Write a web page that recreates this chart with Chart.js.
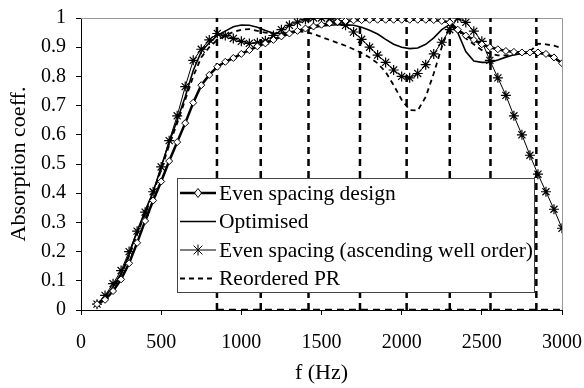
<!DOCTYPE html>
<html>
<head>
<meta charset="utf-8">
<script src="https://cdn.jsdelivr.net/npm/chart.js@4.4.1/dist/chart.umd.min.js"></script>
<style>
html, body { margin: 0; padding: 0; background: #fff; }
#wrap { width: 584px; height: 388px; }
</style>
</head>
<body>
<div id="wrap"><canvas id="chart" width="584" height="388"></canvas></div>
<script>
// frequency (Hz) of each sample
const freqHz = [
  100, 150, 200, 250, 300, 350, 400, 450, 500, 550,
  600, 650, 700, 750, 800, 850, 900, 950, 1000, 1050,
  1100, 1150, 1200, 1250, 1300, 1350, 1400, 1450, 1500, 1550,
  1600, 1650, 1700, 1750, 1800, 1850, 1900, 1950, 2000, 2050,
  2100, 2150, 2200, 2250, 2300, 2350, 2400, 2450, 2500, 2550,
  2600, 2650, 2700, 2750, 2800, 2850, 2900, 2950, 3000
];
const evenSpacing = [
  0.02, 0.035, 0.065, 0.105, 0.16, 0.23, 0.305, 0.375, 0.44, 0.51,
  0.575, 0.64, 0.71, 0.77, 0.805, 0.833, 0.85, 0.863, 0.877, 0.89,
  0.903, 0.913, 0.925, 0.937, 0.947, 0.956, 0.964, 0.971, 0.977, 0.982,
  0.987, 0.99, 0.992, 0.993, 0.994, 0.994, 0.994, 0.994, 0.994, 0.994,
  0.994, 0.994, 0.993, 0.99, 0.985, 0.96, 0.94, 0.925, 0.91, 0.9,
  0.893, 0.887, 0.884, 0.882, 0.882, 0.882, 0.877, 0.865, 0.845
];
const optimised = [
  0.02, 0.045, 0.08, 0.125, 0.19, 0.27, 0.34, 0.405, 0.49, 0.575,
  0.65, 0.73, 0.82, 0.885, 0.915, 0.94, 0.955, 0.97, 0.976, 0.975,
  0.968, 0.957, 0.948, 0.946, 0.95, 0.955, 0.962, 0.968, 0.972, 0.975,
  0.977, 0.977, 0.975, 0.968, 0.958, 0.945, 0.927, 0.91, 0.9, 0.895,
  0.897, 0.91, 0.932, 0.96, 0.978, 0.95, 0.885, 0.853, 0.848, 0.848,
  0.856, 0.866, 0.874, 0.878, 0.88, 0.88, 0.875, 0.864, 0.845
];
const evenAscending = [
  0.02, 0.05, 0.09, 0.135, 0.2, 0.27, 0.335, 0.405, 0.49, 0.58,
  0.665, 0.765, 0.855, 0.893, 0.925, 0.947, 0.94, 0.93, 0.92, 0.913,
  0.915, 0.922, 0.94, 0.96, 0.975, 0.986, 0.995, 1.0, 1.0, 0.998,
  0.99, 0.975, 0.952, 0.927, 0.9, 0.873, 0.848, 0.822, 0.8, 0.795,
  0.81, 0.84, 0.877, 0.917, 0.96, 1.0, 0.985, 0.955, 0.92, 0.855,
  0.795, 0.735, 0.665, 0.6, 0.53, 0.465, 0.405, 0.345, 0.28
];
const reorderedPR = [
  0.02, 0.04, 0.075, 0.12, 0.185, 0.26, 0.33, 0.4, 0.48, 0.565,
  0.64, 0.72, 0.8, 0.865, 0.9, 0.925, 0.94, 0.952, 0.96, 0.962,
  0.956, 0.95, 0.946, 0.948, 0.952, 0.955, 0.952, 0.945, 0.935, 0.925,
  0.915, 0.905, 0.893, 0.88, 0.865, 0.845, 0.815, 0.77, 0.72, 0.685,
  0.683, 0.73, 0.81, 0.9, 0.975, 0.96, 0.93, 0.91, 0.89, 0.878,
  0.872, 0.872, 0.875, 0.878, 0.885, 0.912, 0.91, 0.905, 0.897
];
// dashed vertical lines
const wellEdgesHz = [848, 1121, 1419, 1740, 2031, 2300, 2554, 2840];

const xTicks = [0, 500, 1000, 1500, 2000, 2500, 3000];
const yTicks = [0, 0.1, 0.2, 0.3, 0.4, 0.5, 0.6, 0.7, 0.8, 0.9, 1];

const serif = "'Liberation Serif', 'Times New Roman', serif";

function pts(ys) {
  return freqHz.map(function(f, i) { return { x: f, y: ys[i] }; });
}

const edgeData = [];
wellEdgesHz.forEach(function(e) {
  edgeData.push({ x: e, y: yTicks[0] }, { x: e, y: yTicks[yTicks.length - 1] }, { x: e, y: null });
});
edgeData.push({ x: wellEdgesHz[0], y: yTicks[0] }, { x: xTicks[xTicks.length - 1], y: yTicks[0] });

function drawMarker(ctx, style, x, y, r) {
  ctx.beginPath();
  if (style === 'rectRot') {
    ctx.moveTo(x, y - r - 0.5);
    ctx.lineTo(x + r - 0.5, y);
    ctx.lineTo(x, y + r + 0.5);
    ctx.lineTo(x - r + 0.5, y);
    ctx.closePath();
    ctx.fillStyle = '#fff';
    ctx.fill();
    ctx.stroke();
  } else if (style === 'star') {
    ctx.moveTo(x, y - r); ctx.lineTo(x, y + r);
    ctx.moveTo(x - r * 0.8, y - r * 0.8); ctx.lineTo(x + r * 0.8, y + r * 0.8);
    ctx.moveTo(x + r * 0.8, y - r * 0.8); ctx.lineTo(x - r * 0.8, y + r * 0.8);
    ctx.stroke();
  }
}

const framePlugin = {
  id: 'frame',
  beforeDatasetsDraw(chart) {
    const a = chart.chartArea, ctx = chart.ctx;
    ctx.save();
    ctx.strokeStyle = '#999';
    ctx.lineWidth = 1;
    ctx.beginPath();
    ctx.moveTo(a.left, a.top + 0.5);
    ctx.lineTo(a.right + 0.5, a.top + 0.5);
    ctx.lineTo(a.right + 0.5, a.bottom);
    ctx.stroke();
    ctx.restore();
  }
};

const legendPlugin = {
  id: 'boxLegend',
  afterDraw(chart) {
    const ctx = chart.ctx;
    const x0 = 177, y0 = 178, w = 357, h = 114;
    ctx.save();
    ctx.fillStyle = '#fff';
    ctx.fillRect(x0, y0, w, h);
    ctx.strokeStyle = '#444';
    ctx.lineWidth = 1;
    ctx.strokeRect(x0 + 0.5, y0 + 0.5, w, h);
    let row = 0;
    chart.data.datasets.forEach(function(ds) {
      if (!ds.label) return;
      const y = y0 + 15 + row * 28.5;
      ctx.strokeStyle = '#000';
      ctx.lineWidth = ds.borderWidth;
      ctx.setLineDash(ds.borderDash || []);
      ctx.beginPath();
      ctx.moveTo(x0 + 3, y);
      ctx.lineTo(x0 + 39, y);
      ctx.stroke();
      ctx.setLineDash([]);
      ctx.lineWidth = 1;
      if (ds.pointRadius > 0) drawMarker(ctx, ds.pointStyle, x0 + 21, y, ds.pointRadius + 0.5);
      ctx.fillStyle = '#000';
      ctx.font = '21.5px ' + serif;
      ctx.textBaseline = 'middle';
      ctx.fillText(ds.label, x0 + 42, y + 1);
      row++;
    });
    ctx.restore();
  }
};

const ctx = document.getElementById('chart').getContext('2d');
new Chart(ctx, {
  type: 'line',
  data: {
    datasets: [
      {
        label: 'Even spacing design',
        data: pts(evenSpacing),
        borderColor: '#000',
        borderWidth: 2.5,
        pointStyle: 'rectRot',
        pointRadius: 3.5,
        pointBackgroundColor: '#fff',
        pointBorderColor: '#000',
        pointBorderWidth: 1
      },
      {
        label: 'Optimised',
        data: pts(optimised),
        borderColor: '#000',
        borderWidth: 1.6,
        pointRadius: 0
      },
      {
        label: 'Even spacing (ascending well order)',
        data: pts(evenAscending),
        borderColor: '#000',
        borderWidth: 1,
        pointStyle: 'star',
        pointRadius: 5,
        pointBorderColor: '#000',
        pointBorderWidth: 1.2
      },
      {
        label: 'Reordered PR',
        data: pts(reorderedPR),
        borderColor: '#000',
        borderWidth: 1.8,
        borderDash: [5, 4],
        pointRadius: 0
      },
      {
        label: '',
        data: edgeData,
        borderColor: '#000',
        borderWidth: 2.5,
        borderDash: [7, 5],
        pointRadius: 0,
        spanGaps: false
      }
    ]
  },
  options: {
    responsive: false,
    animation: false,
    devicePixelRatio: 1,
    layout: { padding: { top: 18, right: 22, left: 0, bottom: 0 } },
    elements: { line: { tension: 0, fill: false } },
    plugins: {
      legend: { display: false },
      tooltip: { enabled: false }
    },
    scales: {
      x: {
        type: 'linear',
        min: xTicks[0],
        max: xTicks[xTicks.length - 1],
        afterFit: function(s) { s.height = 78; s.paddingLeft = 0; s.paddingRight = 0; },
        afterBuildTicks: function(s) { s.ticks = xTicks.map(function(v) { return { value: v }; }); },
        ticks: {
          color: '#000',
          font: { family: serif, size: 20 },
          padding: 16,
          maxRotation: 0,
          callback: function(v) { return String(v); }
        },
        grid: { drawOnChartArea: false, drawTicks: true, tickLength: 5, color: '#000' },
        border: { color: '#000', width: 1 },
        title: {
          display: true,
          text: 'f (Hz)',
          color: '#000',
          font: { family: serif, size: 22 },
          padding: { top: 4, bottom: 2 }
        }
      },
      y: {
        min: yTicks[0],
        max: yTicks[yTicks.length - 1],
        afterFit: function(s) { s.width = 81; s.paddingTop = 0; s.paddingBottom = 0; },
        afterBuildTicks: function(s) { s.ticks = yTicks.map(function(v) { return { value: v }; }); },
        ticks: {
          color: '#000',
          font: { family: serif, size: 20 },
          padding: 10,
          callback: function(v) { return String(Math.round(v * 10) / 10); }
        },
        grid: { drawOnChartArea: false, drawTicks: true, tickLength: 5, color: '#000' },
        border: { color: '#000', width: 1 },
        title: {
          display: true,
          text: 'Absorption coeff.',
          color: '#000',
          font: { family: serif, size: 22 },
          padding: { top: 6, bottom: 0 }
        }
      }
    }
  },
  plugins: [framePlugin, legendPlugin]
});
</script>
</body>
</html>
